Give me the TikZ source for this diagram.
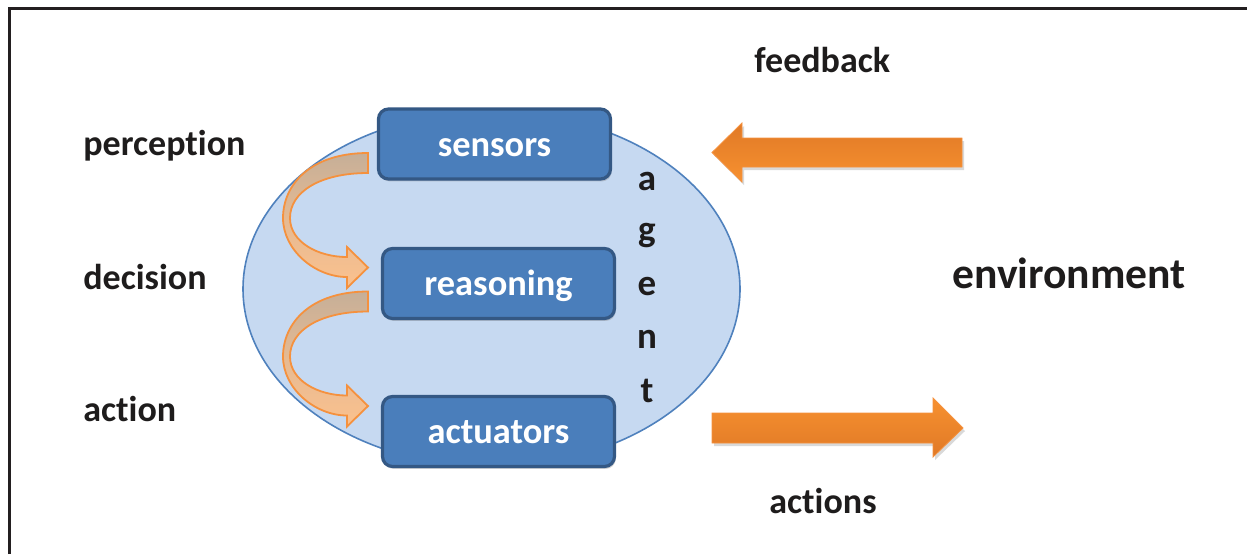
\documentclass[tikz,border=0pt]{standalone}
\usepackage{fontspec}
\setmainfont{Carlito}[Ligatures={NoCommon}]
\usetikzlibrary{shapes.geometric,shadows,calc}
\definecolor{framec}{RGB}{35,31,32}
\definecolor{ellfill}{RGB}{198,217,241}
\definecolor{elldraw}{RGB}{79,129,189}
\definecolor{boxfill}{RGB}{74,126,187}
\definecolor{boxdraw}{RGB}{52,88,132}
\definecolor{orgdark}{RGB}{224,121,38}
\definecolor{orglight}{RGB}{247,145,48}
\definecolor{orgline}{RGB}{245,145,62}
\definecolor{tanc}{RGB}{198,175,152}
\definecolor{peach}{RGB}{251,193,142}
\definecolor{txt}{RGB}{30,28,28}
\tikzset{
  boxn/.style={draw=boxdraw, line width=1.6pt, fill=boxfill, rounded corners=5pt,
    minimum width=116pt, minimum height=35pt, inner sep=0pt, text=white,
    font=\bfseries\fontsize{18.2}{20}\selectfont, text height=12pt, text depth=0pt,
    drop shadow={shadow xshift=0.6pt, shadow yshift=-1.2pt, opacity=0.35}},
  lbl/.style={anchor=base west, inner sep=0pt, text=txt, font=\bfseries\fontsize{18}{20}\selectfont},
  agentl/.style={anchor=base, inner sep=0pt, text=txt, font=\bfseries\fontsize{18.5}{20}\selectfont},
  bigarrow/.style={draw=orgline, line width=0.4pt,
    drop shadow={shadow xshift=1pt, shadow yshift=-1.5pt, opacity=0.3}},
  curvearrow/.style={draw=orgline, line width=0.9pt, top color=tanc, bottom color=peach, middle color=tanc!40!peach}
}
\begin{document}
\begin{tikzpicture}[x=0.5pt,y=-0.5pt]
\useasboundingbox (0,0) rectangle (1247,554);
% frame
\draw[framec, line width=1.3pt, line join=miter] (9.5,554) -- (9.5,8.5) -- (1247,8.5);
% agent body
\node (agentbody) [ellipse, draw=elldraw, line width=0.8pt, fill=ellfill, inner sep=0pt,
  minimum width=248.5pt, minimum height=177.5pt] at (491.5,289) {};
% boxes
\node (sensors) [boxn] at (494.5,144) {sensors};
\node (reasoning) [boxn] at (498.5,283.5) {reasoning};
\node (actuators) [boxn] at (498.5,431.5) {actuators};
% curved arrows
\foreach \dy in {0,138.5}{
\begin{scope}[shift={(0,\dy)}]
\path[curvearrow] (368,153) .. controls (310,153) and (283,185) .. (283,218)
  .. controls (283,250) and (315,277) .. (347,277)
  -- (347,288) -- (368,267.5) -- (347,247) -- (347,257)
  .. controls (318,257) and (290,242) .. (290,218)
  .. controls (290,192) and (320,173) .. (368,173) -- cycle;
\end{scope}}
% agent letters
\foreach \l/\yb [count=\i] in {a/190,g/241,e/295,n/348,t/402}
  \node[agentl] (ag\i) at (647,\yb) {\l};
% feedback arrow
\path[bigarrow, top color=orgdark, bottom color=orglight]
  (962,138) -- (742,138) -- (742,123) -- (712,152.5) -- (742,182) -- (742,167) -- (962,167) -- cycle;
% actions arrow
\path[bigarrow, top color=orglight, bottom color=orgdark]
  (712,413) -- (933,413) -- (933,398) -- (963,428) -- (933,457) -- (933,443) -- (712,443) -- cycle;
% labels
\node[lbl] (perception) at (83,155) {perception};
\node[lbl] (decision) at (83,289) {decision};
\node[lbl] (action) at (83,421) {action};
\node[lbl] (feedback) at (754,72) {feedback};
\node[lbl] (actions) at (769,513) {actions};
\node[lbl, font=\bfseries\fontsize{21.8}{24}\selectfont] (environment) at (952,288) {environment};
\end{tikzpicture}
\end{document}
